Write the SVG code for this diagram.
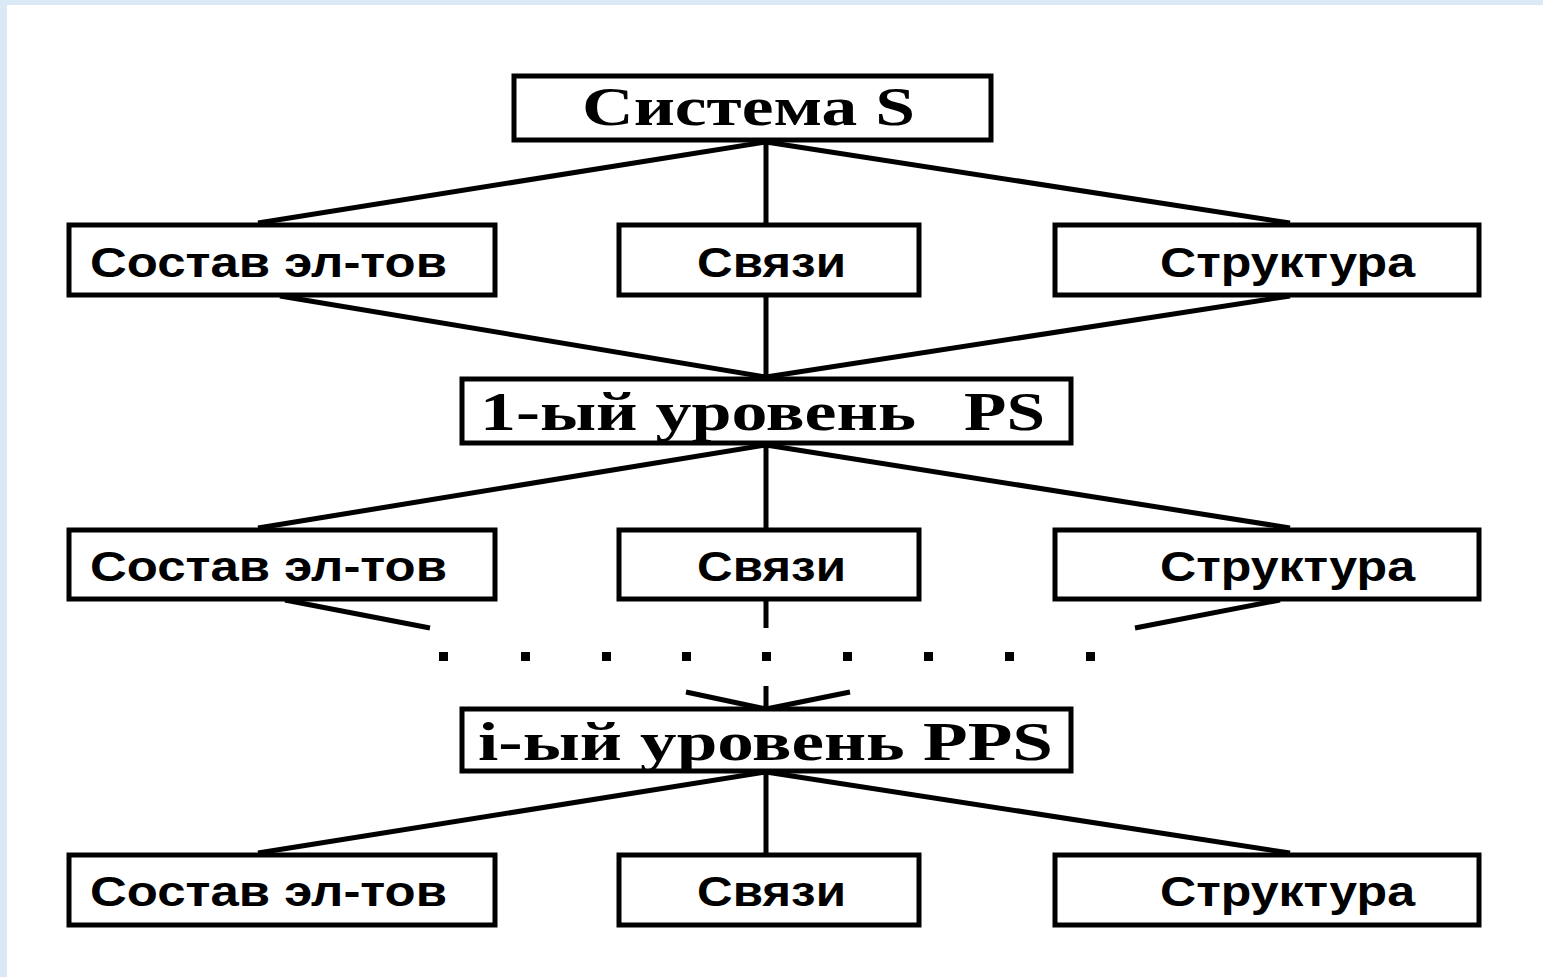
<svg xmlns="http://www.w3.org/2000/svg" width="1543" height="977" viewBox="0 0 1543 977">
<style>
.box{fill:#fff;stroke:#000;stroke-width:5}
.ln{stroke:#000;stroke-width:5;fill:none}
.t1{font-family:"Liberation Serif","Times New Roman",serif;font-weight:bold;font-size:54px;fill:#000}
.t2{font-family:"Liberation Sans",Arial,sans-serif;font-weight:bold;font-size:42px;fill:#000}
</style>
<rect width="1543" height="977" fill="#dbe9f7"/>
<rect x="7" y="5" width="1536" height="972" fill="#fff"/>
<g id="connectors">
<path class="ln" d="M766 142 L258 223 M766 142 V225 M766 142 L1290 223"/>
<path class="ln" d="M280 296 L766 377 M766 296 V379 M1290 296 L766 377"/>
<path class="ln" d="M766 445 L258 528 M766 445 V530 M766 445 L1290 528"/>
<path class="ln" d="M285 600 L430 628 M766 600 V628 M1280 600 L1135 628"/>
<path class="ln" d="M686 692 L766 709 M766 686 V709 M850 692 L766 709"/>
<path class="ln" d="M766 772 L258 853 M766 772 V855 M766 772 L1290 853"/>
<g fill="#000">
<rect x="439" y="652" width="9" height="9"/><rect x="521" y="652" width="9" height="9"/><rect x="602" y="652" width="9" height="9"/><rect x="682" y="652" width="9" height="9"/><rect x="762" y="652" width="9" height="9"/><rect x="843" y="652" width="9" height="9"/><rect x="924" y="652" width="9" height="9"/><rect x="1005" y="652" width="9" height="9"/><rect x="1086" y="652" width="9" height="9"/>
</g>
</g>
<g id="system">
<rect class="box" x="514" y="76" width="477" height="64"/>
<text class="t1" x="582" y="125" textLength="333" lengthAdjust="spacingAndGlyphs">Система S</text>
</g>
<g id="r1a"><rect class="box" x="69" y="225" width="426" height="70"/><text class="t2" x="90" y="277" textLength="357" lengthAdjust="spacingAndGlyphs">Состав эл-тов</text></g>
<g id="r1b"><rect class="box" x="619" y="225" width="300" height="70"/><text class="t2" x="697" y="277" textLength="149" lengthAdjust="spacingAndGlyphs">Связи</text></g>
<g id="r1c"><rect class="box" x="1055" y="225" width="424" height="70"/><text class="t2" x="1160" y="277" textLength="255" lengthAdjust="spacingAndGlyphs">Структура</text></g>
<g id="level1">
<rect class="box" x="462" y="379" width="609" height="64"/>
<text class="t1" y="430"><tspan x="480" textLength="436" lengthAdjust="spacingAndGlyphs">1-ый уровень</tspan><tspan x="964" textLength="81" lengthAdjust="spacingAndGlyphs">PS</tspan></text>
</g>
<g id="r2a"><rect class="box" x="69" y="530" width="426" height="69"/><text class="t2" x="90" y="581" textLength="357" lengthAdjust="spacingAndGlyphs">Состав эл-тов</text></g>
<g id="r2b"><rect class="box" x="619" y="530" width="300" height="69"/><text class="t2" x="697" y="581" textLength="149" lengthAdjust="spacingAndGlyphs">Связи</text></g>
<g id="r2c"><rect class="box" x="1055" y="530" width="424" height="69"/><text class="t2" x="1160" y="581" textLength="255" lengthAdjust="spacingAndGlyphs">Структура</text></g>
<g id="leveli">
<rect class="box" x="462" y="709" width="609" height="62"/>
<text class="t1" x="478" y="760" textLength="575" lengthAdjust="spacingAndGlyphs">i-ый уровень PPS</text>
</g>
<g id="r3a"><rect class="box" x="69" y="855" width="426" height="70"/><text class="t2" x="90" y="906" textLength="357" lengthAdjust="spacingAndGlyphs">Состав эл-тов</text></g>
<g id="r3b"><rect class="box" x="619" y="855" width="300" height="70"/><text class="t2" x="697" y="906" textLength="149" lengthAdjust="spacingAndGlyphs">Связи</text></g>
<g id="r3c"><rect class="box" x="1055" y="855" width="424" height="70"/><text class="t2" x="1160" y="906" textLength="255" lengthAdjust="spacingAndGlyphs">Структура</text></g>
</svg>
